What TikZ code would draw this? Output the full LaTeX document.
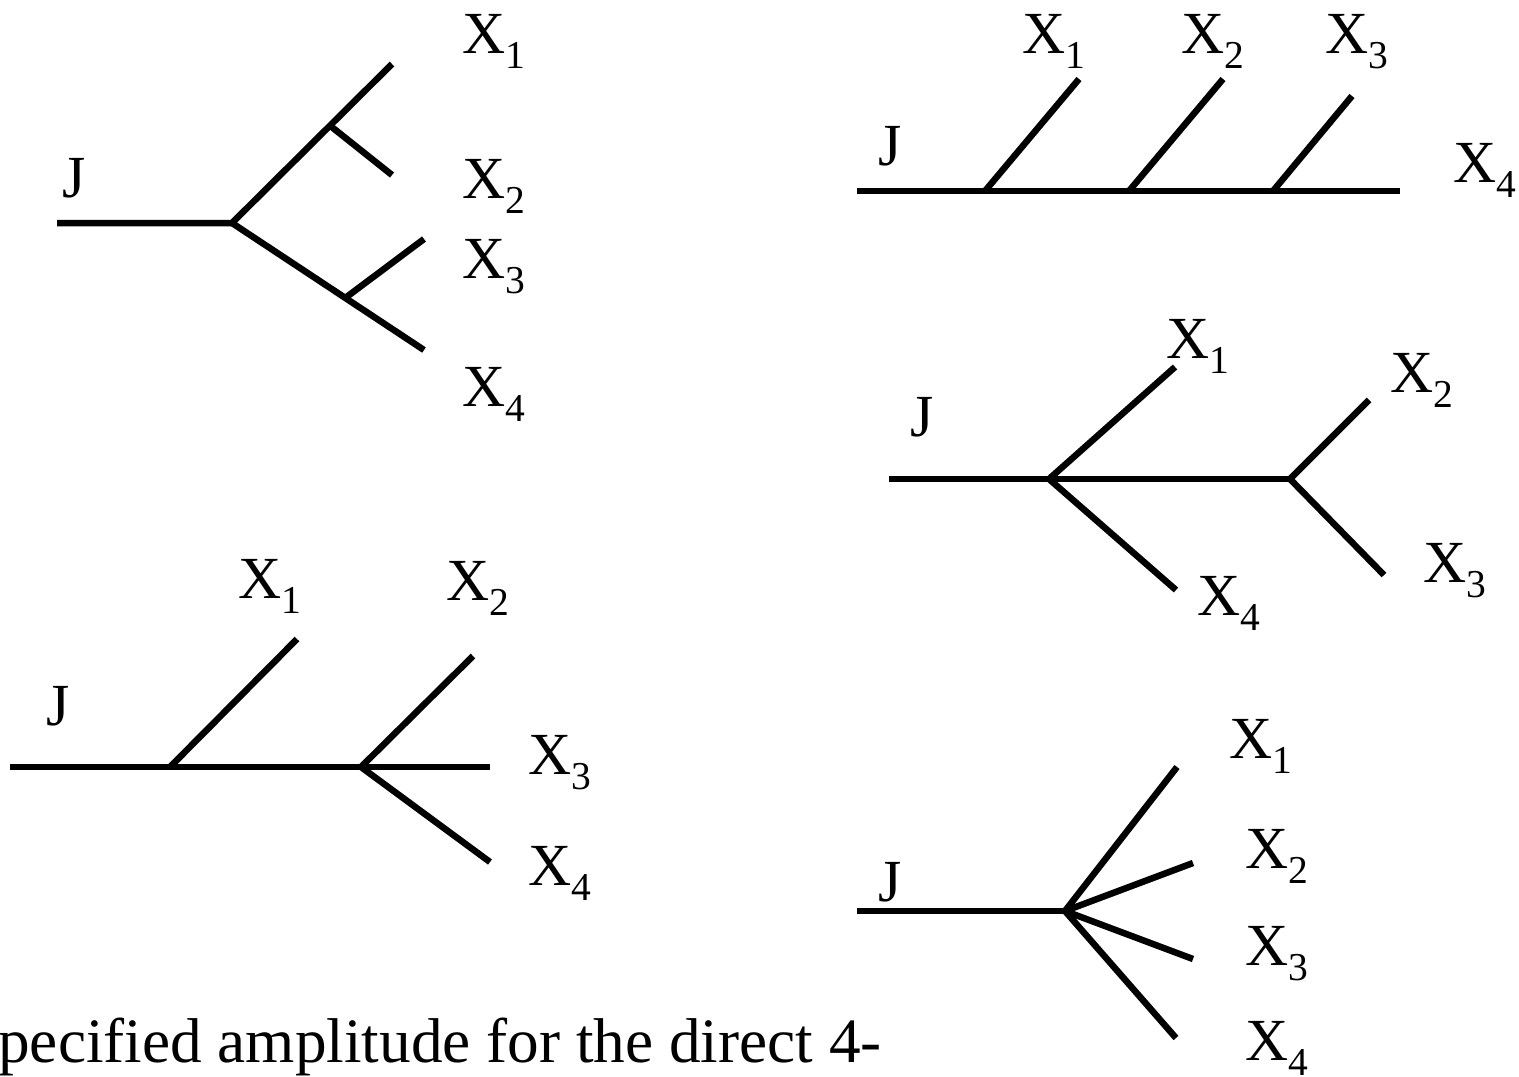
\documentclass[tikz,border=0pt]{standalone}
\usepackage{fontspec}
\setmainfont{Liberation Serif}
\usetikzlibrary{calc}
\newcommand\Xsub[1]{X\raisebox{-8.7pt}{\fontsize{22.5pt}{22.5pt}\selectfont #1}}
\begin{document}
\begin{tikzpicture}[x=0.02cm,y=-0.02cm,
  lbl/.style={anchor=base west, inner sep=0pt, font=\fontsize{34pt}{34pt}\selectfont},
  ln/.style={line width=3.7pt}]
\useasboundingbox (0,0) rectangle (1519,1076);

% ---------- Diagram 1 (top left)
\coordinate (a0) at (57,223);
\coordinate (a1) at (232,223);
\coordinate (a2) at (392,64);
\coordinate (a5) at (424,350);
\coordinate (a3) at ($(a1)!0.6125!(a2)$);
\coordinate (a4) at (392,175);
\coordinate (a6) at ($(a1)!0.59!(a5)$);
\coordinate (a7) at (424,239);
\draw[ln] (a0) -- (a1) -- (a2);
\draw[ln] (a1) -- (a5);
\draw[ln] (a3) -- (a4);
\draw[ln] (a6) -- (a7);
\node[lbl] (d1j) at (62,197) {J};
\node[lbl] (d1x1) at (462,53) {\Xsub{1}};
\node[lbl] (d1x2) at (462,198) {\Xsub{2}};
\node[lbl] (d1x3) at (462,278) {\Xsub{3}};
\node[lbl] (d1x4) at (462,406) {\Xsub{4}};

% ---------- Diagram 2 (top right)
\coordinate (b0) at (857,191);
\coordinate (b1) at (1400,191);
\coordinate (b2) at (985,191);
\coordinate (b3) at (1129,191);
\coordinate (b4) at (1273,191);
\coordinate (b5) at (1079,79);
\coordinate (b6) at (1223,79);
\coordinate (b7) at (1352,96);
\draw[ln] (b0) -- (b1);
\draw[ln] (b2) -- (b5);
\draw[ln] (b3) -- (b6);
\draw[ln] (b4) -- (b7);
\node[lbl] (d2j) at (878,165) {J};
\node[lbl] (d2x1) at (1022,53) {\Xsub{1}};
\node[lbl] (d2x2) at (1181,53) {\Xsub{2}};
\node[lbl] (d2x3) at (1325,53) {\Xsub{3}};
\node[lbl] (d2x4) at (1453,182) {\Xsub{4}};

% ---------- Diagram 3 (middle right)
\coordinate (c0) at (889,479);
\coordinate (c1) at (1049,479);
\coordinate (c2) at (1290,479);
\coordinate (c3) at (1175,367);
\coordinate (c4) at (1176,590);
\coordinate (c5) at (1369,400);
\coordinate (c6) at (1384,575);
\draw[ln] (c0) -- (c2);
\draw[ln] (c1) -- (c3);
\draw[ln] (c1) -- (c4);
\draw[ln] (c2) -- (c5);
\draw[ln] (c2) -- (c6);
\node[lbl] (d3j) at (910,436) {J};
\node[lbl] (d3x1) at (1166,358) {\Xsub{1}};
\node[lbl] (d3x2) at (1390,392) {\Xsub{2}};
\node[lbl] (d3x3) at (1423,582) {\Xsub{3}};
\node[lbl] (d3x4) at (1197,615) {\Xsub{4}};

% ---------- Diagram 4 (bottom left)
\coordinate (d0) at (10,767);
\coordinate (d1) at (170,767);
\coordinate (d2) at (361,767);
\coordinate (d3) at (490,767);
\coordinate (d4) at (297,639);
\coordinate (d5) at (473,656);
\coordinate (d6) at (490,862);
\draw[ln] (d0) -- (d3);
\draw[ln] (d1) -- (d4);
\draw[ln] (d2) -- (d5);
\draw[ln] (d2) -- (d6);
\node[lbl] (d4j) at (46,725) {J};
\node[lbl] (d4x1) at (238,598) {\Xsub{1}};
\node[lbl] (d4x2) at (446,600) {\Xsub{2}};
\node[lbl] (d4x3) at (528,774) {\Xsub{3}};
\node[lbl] (d4x4) at (528,885) {\Xsub{4}};

% ---------- Diagram 5 (bottom right)
\coordinate (e0) at (857,911);
\coordinate (e1) at (1065,911);
\coordinate (e2) at (1177,767);
\coordinate (e3) at (1193,863);
\coordinate (e4) at (1193,959);
\coordinate (e5) at (1176,1038);
\draw[ln] (e0) -- (e1);
\draw[ln] (e1) -- (e2);
\draw[ln] (e1) -- (e3);
\draw[ln] (e1) -- (e4);
\draw[ln] (e1) -- (e5);
\node[lbl] (d5j) at (878,901) {J};
\node[lbl] (d5x1) at (1229,758) {\Xsub{1}};
\node[lbl] (d5x2) at (1245,868) {\Xsub{2}};
\node[lbl] (d5x3) at (1245,965) {\Xsub{3}};
\node[lbl] (d5x4) at (1245,1060) {\Xsub{4}};

% ---------- caption fragment
\node[anchor=base west, inner sep=0pt, font=\fontsize{36pt}{36pt}\selectfont] (cap) at (-2,1062) {pecified amplitude for the direct 4-};
\end{tikzpicture}
\end{document}
